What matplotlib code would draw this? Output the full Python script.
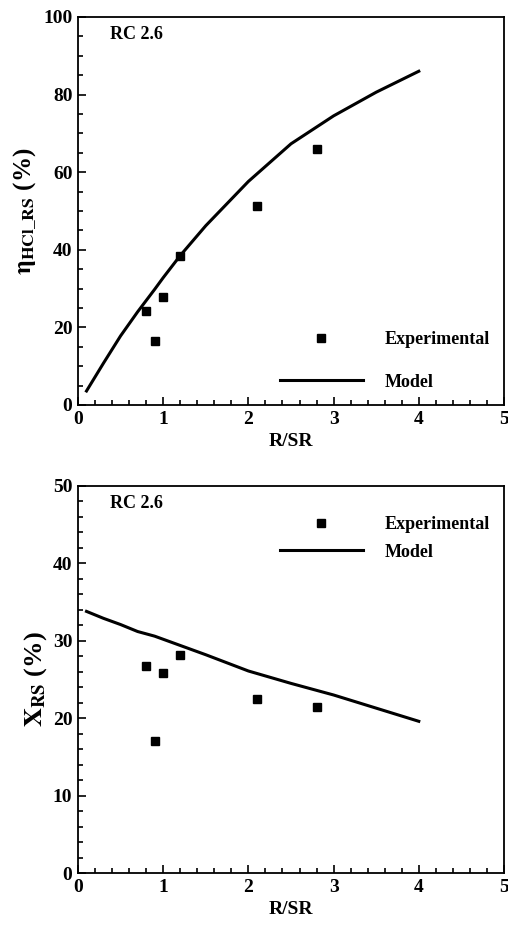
import matplotlib
matplotlib.use('Agg')
import matplotlib.pyplot as plt
from matplotlib.ticker import MultipleLocator

matplotlib.rcParams['font.family'] = 'Liberation Serif'
matplotlib.rcParams['font.weight'] = 'bold'
matplotlib.rcParams['mathtext.fontset'] = 'stix'

# top panel: HCl removal efficiency
exp_x = [0.8, 0.9, 1.0, 1.2, 2.1, 2.8]
eta_exp = [24.1, 16.5, 27.7, 38.3, 51.3, 66.0]
model_x = [0.1, 0.3, 0.5, 0.7, 0.9, 1.0, 1.2, 1.5, 2.0, 2.5, 3.0, 3.5, 4.0]
eta_model = [3.6, 10.8, 17.8, 24.0, 29.8, 32.8, 38.5, 46.2, 57.6, 67.3, 74.5, 80.6, 86.0]

# bottom panel: conversion
x_exp = [26.7, 17.0, 25.9, 28.2, 22.5, 21.4]
x_model = [33.8, 32.9, 32.1, 31.2, 30.6, 30.2, 29.4, 28.2, 26.1, 24.5, 23.0, 21.3, 19.6]

fig = plt.figure(figsize=(5.08, 9.25), dpi=100)
ax1 = fig.add_axes([0.1535, 0.5622, 0.8386, 0.4195])
ax2 = fig.add_axes([0.1535, 0.0562, 0.8386, 0.4184])


def style(ax, ymax, ymajor, yminor):
    ax.set_xlim(0, 5)
    ax.set_ylim(0, ymax)
    ax.xaxis.set_major_locator(MultipleLocator(1))
    ax.xaxis.set_minor_locator(MultipleLocator(0.2))
    ax.yaxis.set_major_locator(MultipleLocator(ymajor))
    ax.yaxis.set_minor_locator(MultipleLocator(yminor))
    ax.tick_params(which='both', direction='in', top=False, right=False, width=1.2)
    ax.tick_params(which='major', length=6, labelsize=14, pad=4)
    ax.tick_params(which='minor', length=3.5)
    for s in ax.spines.values():
        s.set_linewidth(1.3)
    ax.set_xlabel('R/SR', fontsize=14, fontweight='bold', labelpad=4)
    ax.text(0.37, 0.955 * ymax, 'RC 2.6', fontsize=13, fontweight='bold', va='center')


ax1.plot(exp_x, eta_exp, 's', color='black', markersize=5.5, label='Experimental')
ax1.plot(model_x, eta_model, '-', color='black', linewidth=2.2, label='Model')
style(ax1, 100, 20, 5)
ax1.set_ylabel(r'$\mathrm{\eta}_{\mathbf{HCl\_RS}}$ (%)', fontsize=18, fontweight='bold', labelpad=3)
ax1.legend(loc='lower right', frameon=False, fontsize=13, handlelength=4.6,
           handletextpad=1.2, labelspacing=1.4, borderaxespad=0.4,
           bbox_to_anchor=(1.0, 0.0))

ax2.plot(exp_x, x_exp, 's', color='black', markersize=5.5, label='Experimental')
ax2.plot(model_x, x_model, '-', color='black', linewidth=2.2, label='Model')
style(ax2, 50, 10, 2)
ax2.set_ylabel(r'$\mathbf{X}_{\mathbf{RS}}$ (%)', fontsize=19, fontweight='bold', labelpad=3)
ax2.legend(loc='upper right', frameon=False, fontsize=13, handlelength=4.6,
           handletextpad=1.2, labelspacing=0.6, borderaxespad=0.4,
           bbox_to_anchor=(1.0, 0.96))

fig.savefig('out.png', dpi=100)
